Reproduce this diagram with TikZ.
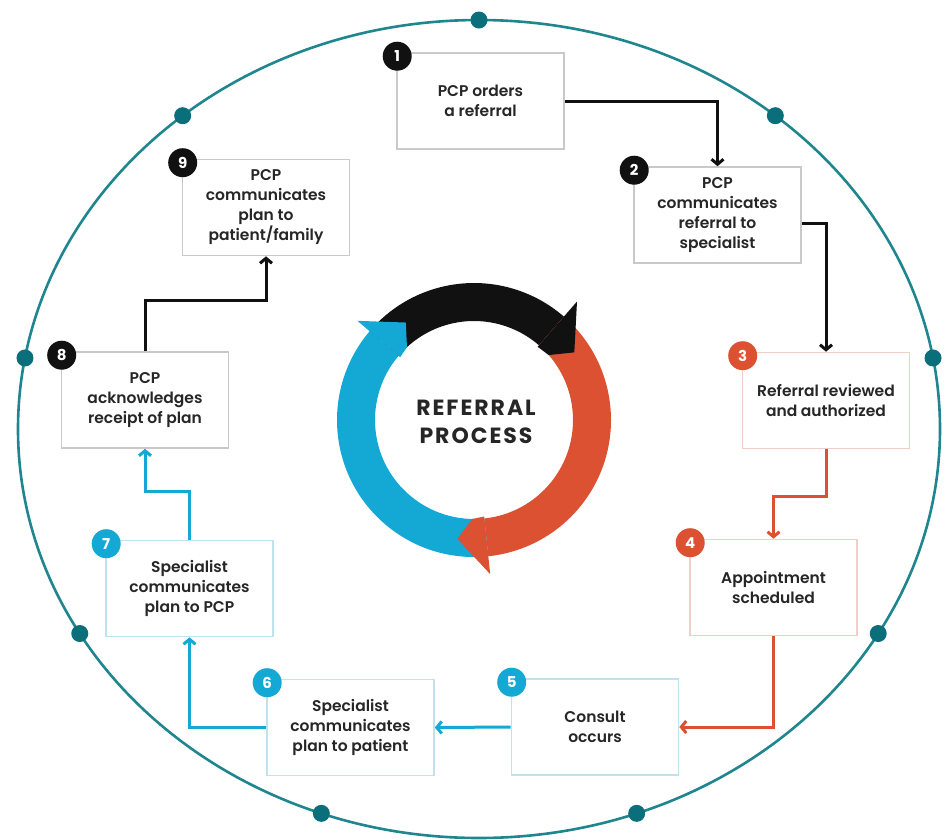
\documentclass[tikz,border=0pt]{standalone}
\usepackage{fontspec}
\setmainfont{Poppins}[UprightFont=* SemiBold, BoldFont=* Bold]
\newfontfamily\titlefont{Poppins Bold}[LetterSpace=9]
\usetikzlibrary{arrows.meta,calc}
\definecolor{cteal}{HTML}{1F858E}
\definecolor{cdot}{HTML}{0B6F7B}
\definecolor{cblack}{HTML}{111111}
\definecolor{cred}{HTML}{DB5131}
\definecolor{cblue}{HTML}{14A8D5}
\definecolor{ctext}{HTML}{262626}
\definecolor{bgray}{HTML}{C9C9C9}
\definecolor{bred}{HTML}{EFCFC6}
\definecolor{bblue}{HTML}{BEE3EE}
\begin{document}
\begin{tikzpicture}[x=1pt,y=-1pt,
  box/.style={draw=#1, line width=1.6pt, fill=white, minimum width=167pt, minimum height=96pt,
    align=center, font=\fontsize{15.5}{20}\selectfont, text=ctext, inner sep=2pt},
  badge/.style={circle, fill=#1, text=white, font=\bfseries\fontsize{15}{15}\selectfont,
    minimum size=29pt, inner sep=0pt},
  conn/.style={draw=#1, line width=3pt, -{Straight Barb[length=5pt,width=12pt]}},
  title/.style={align=center, font=\titlefont\fontsize{22}{28}\selectfont, text=ctext}]
\useasboundingbox (0,0) rectangle (948,839);
% outer ellipse and dots
\draw[cteal, line width=2.6pt] (479,429) ellipse [x radius=461, y radius=409];
\foreach \a in {10,50,...,330}
  \fill[cdot] ({479+461*cos(\a)},{429-409*sin(\a)}) circle[radius=8.5];
% central ring
\begin{scope}[shift={(474,420)}, x=1pt, y=1pt]
  \fill[cblack] (139.6:137) arc[start angle=139.6,end angle=49,radius=137] -- (49:99) arc[start angle=49,end angle=139.6,radius=99] -- cycle;
  \fill[cred] (49:137) arc[start angle=49,end angle=-84,radius=137] -- (-84:99) arc[start angle=-84,end angle=49,radius=99] -- cycle;
  \fill[cblue] (276:137) arc[start angle=276,end angle=139.6,radius=137] -- (139.6:99) arc[start angle=139.6,end angle=276,radius=99] -- cycle;
  \fill[cblack] (49:97) -- (49:157) -- (34:121) -- (41:99) -- cycle;
  \fill[cred] (-84:97) -- (-84:155) -- (-98:120) -- (-91:99) -- cycle;
  \fill[cblue] (139.6:97) -- (139.6:153) -- (125:119) -- (132.6:99) -- cycle;
  \node[title] (ttl) at (2,-2) {REFERRAL\\PROCESS};
\end{scope}
% boxes
\node[box=bgray] (b1) at (480.5,101) {PCP orders\\a referral};
\node[box=bgray] (b2) at (717.5,215) {PCP\\communicates\\referral to\\specialist};
\node[box=bred] (b3) at (826,400.5) {Referral reviewed\\and authorized};
\node[box=bred] (b4) at (773.5,587.5) {Appointment\\scheduled};
\node[box=bblue] (b5) at (595,727) {Consult\\occurs};
\node[box=bblue] (b6) at (350.5,727.5) {Specialist\\communicates\\plan to patient};
\node[box=bblue] (b7) at (189.5,588.5) {Specialist\\communicates\\plan to PCP};
\node[box=bgray] (b8) at (145,400) {PCP\\acknowledges\\receipt of plan};
\node[box=bgray] (b9) at (266,207.5) {PCP\\communicates\\plan to\\patient/family};
% connectors
\draw[conn=cblack] (b1.east) -| (b2.north);
\draw[conn=cblack] ([yshift=-8pt]b2.east) -| (b3.north);
\draw[conn=cred] (b3.south) -- ++(0,47) -| (b4.north);
\draw[conn=cred] (b4.south) |- (b5.east);
\draw[conn=cblue] (b5.west) -- (b6.east);
\draw[conn=cblue] (b6.west) -| (b7.south);
\draw[conn=cblue] (b7.north) -- ++(0,-48) -| (b8.south);
\draw[conn=cblack] (b8.north) -- ++(0,-51) -| (b9.south);
% badges
\foreach \b/\n/\c in {b1/1/cblack,b2/2/cblack,b3/3/cred,b4/4/cred,b5/5/cblue,b6/6/cblue,b7/7/cblue,b8/8/cblack,b9/9/cblack}
  \node[badge=\c] (n\n) at ([xshift=1pt,yshift=-4pt]\b.north west) {\n};
\end{tikzpicture}
\end{document}
